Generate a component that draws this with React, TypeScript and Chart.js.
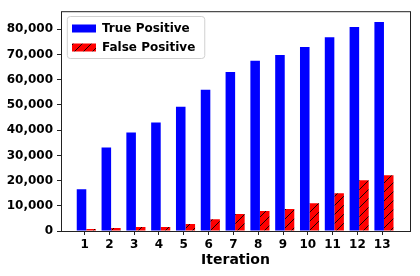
import { useEffect, useRef } from 'react';
import { Chart, registerables } from 'chart.js';

Chart.register(...registerables);

const iterations = [1, 2, 3, 4, 5, 6, 7, 8, 9, 10, 11, 12, 13];
const truePositive = [16600, 33100, 39100, 43000, 49300, 56000, 63100, 67500, 69800, 73000, 76900, 80900, 82900];
const falsePositive = [800, 1200, 1600, 1600, 2800, 4700, 6700, 7900, 8700, 11000, 15000, 20100, 22100];
const seriesNames = ['True Positive', 'False Positive'];
const yTicks = [0, 10000, 20000, 30000, 40000, 50000, 60000, 70000, 80000];
const xTitle = 'Iteration';
const yMin = 0;
const yMax = 87200;
const xMin = -0.02;
const xMax = 14.05;
const tickShift = 0.07;

const FONT = "'DejaVu Sans', sans-serif";

function makeHatch(): CanvasPattern | string {
  const s = 9;
  const c = document.createElement('canvas');
  c.width = s;
  c.height = s;
  const g = c.getContext('2d');
  if (!g) return '#ff0000';
  g.fillStyle = '#ff0000';
  g.fillRect(0, 0, s, s);
  g.strokeStyle = '#000000';
  g.lineWidth = 0.9;
  g.beginPath();
  g.moveTo(0, s);
  g.lineTo(s, 0);
  g.moveTo(-1, 1);
  g.lineTo(1, -1);
  g.moveTo(s - 1, s + 1);
  g.lineTo(s + 1, s - 1);
  g.stroke();
  return g.createPattern(c, 'repeat') || '#ff0000';
}

const framePlugin = {
  id: 'frameAndLegendBox',
  afterLayout(chart: any) {
    const lg = chart.legend;
    const ca = chart.chartArea;
    if (!lg || !ca) return;
    lg.left = ca.left + 4;
    lg.top = ca.top + 4.3;
    lg.right = ca.right;
    lg.bottom = ca.bottom;
  },
  beforeDraw(chart: any) {
    const lg = chart.legend;
    if (!lg || !lg.legendHitBoxes || !lg.legendHitBoxes.length) return;
    const hb = lg.legendHitBoxes;
    let l = Infinity, r = -Infinity, t = Infinity, b = -Infinity;
    for (const h of hb) {
      l = Math.min(l, h.left);
      r = Math.max(r, h.left + h.width);
      t = Math.min(t, h.top);
      b = Math.max(b, h.top + h.height);
    }
    const x0 = l - 4.7, x1 = r + 9.5, y0 = t - 6, y1 = b + 5;
    const ctx = chart.ctx;
    ctx.save();
    ctx.beginPath();
    const rad = 3;
    ctx.moveTo(x0 + rad, y0);
    ctx.arcTo(x1, y0, x1, y1, rad);
    ctx.arcTo(x1, y1, x0, y1, rad);
    ctx.arcTo(x0, y1, x0, y0, rad);
    ctx.arcTo(x0, y0, x1, y0, rad);
    ctx.closePath();
    ctx.fillStyle = 'rgba(255,255,255,0.8)';
    ctx.fill();
    ctx.strokeStyle = '#d0d0d0';
    ctx.lineWidth = 1;
    ctx.stroke();
    ctx.restore();
  },
  afterDraw(chart: any) {
    const ca = chart.chartArea;
    const ctx = chart.ctx;
    ctx.save();
    ctx.strokeStyle = '#222222';
    ctx.lineWidth = 1;
    ctx.strokeRect(ca.left + 0.5, ca.top + 0.5, ca.right - ca.left, ca.bottom - ca.top);
    ctx.restore();
  },
};

export default function App() {
  const ref = useRef<HTMLCanvasElement>(null);

  useEffect(() => {
    const canvas = ref.current;
    if (!canvas) return;
    const hatch = makeHatch();
    const tickFont = { family: FONT, size: 12, weight: 'bold' as const };

    const chart = new Chart(canvas, {
      type: 'bar',
      data: {
        datasets: [
          {
            label: seriesNames[0],
            data: iterations.map((it, i) => ({ x: it, y: truePositive[i] })),
            backgroundColor: '#0000ff',
            borderWidth: 0,
            categoryPercentage: 0.77,
            barPercentage: 1.0,
          },
          {
            label: seriesNames[1],
            data: iterations.map((it, i) => ({ x: it, y: falsePositive[i] })),
            backgroundColor: hatch as any,
            borderWidth: 0,
            categoryPercentage: 0.77,
            barPercentage: 1.0,
          },
        ],
      },
      options: {
        responsive: false,
        animation: false,
        devicePixelRatio: 1,
        layout: { padding: { top: 10, right: 10, left: 0, bottom: 0 } },
        plugins: {
          legend: {
            position: 'chartArea' as any,
            align: 'start',
            labels: {
              boxWidth: 24,
              boxHeight: 8,
              padding: 7,
              font: tickFont,
              color: '#000000',
            },
          },
          tooltip: { enabled: false },
        },
        scales: {
          x: {
            type: 'linear',
            offset: false,
            min: xMin,
            max: xMax,
            afterBuildTicks: (scale: any) => {
              scale.ticks = iterations.map((v) => ({ value: v - tickShift }));
            },
            afterFit: (scale: any) => {
              scale.height = 45;
            },
            ticks: {
              autoSkip: false,
              maxRotation: 0,
              padding: 3,
              color: '#000000',
              font: tickFont,
              callback: (_v: any, i: number) => String(iterations[i]),
            },
            grid: {
              display: true,
              offset: false,
              drawOnChartArea: false,
              drawTicks: true,
              tickLength: 4,
              color: '#222222',
              tickColor: '#222222',
            },
            border: { display: false },
            title: {
              display: true,
              text: xTitle,
              color: '#000000',
              font: { family: FONT, size: 14, weight: 'bold' },
              padding: { top: 0, bottom: 7 },
            },
          },
          y: {
            min: yMin,
            max: yMax,
            afterBuildTicks: (scale: any) => {
              scale.ticks = yTicks.map((v) => ({ value: v }));
            },
            afterFit: (scale: any) => {
              scale.width = 61;
            },
            ticks: {
              padding: 4,
              color: '#000000',
              font: tickFont,
              callback: (v: any) => Number(v).toLocaleString('en-US'),
            },
            grid: {
              display: true,
              drawOnChartArea: false,
              drawTicks: true,
              tickLength: 4,
              color: '#222222',
              tickColor: '#222222',
            },
            border: { display: false },
          },
        },
      } as any,
      plugins: [framePlugin],
    });

    return () => chart.destroy();
  }, []);

  return (
    <div style={{ position: 'fixed', left: 0, top: 0, width: 420, height: 276, background: '#ffffff' }}>
      <canvas ref={ref} width={420} height={276} style={{ display: 'block', width: 420, height: 276 }} />
    </div>
  );
}
